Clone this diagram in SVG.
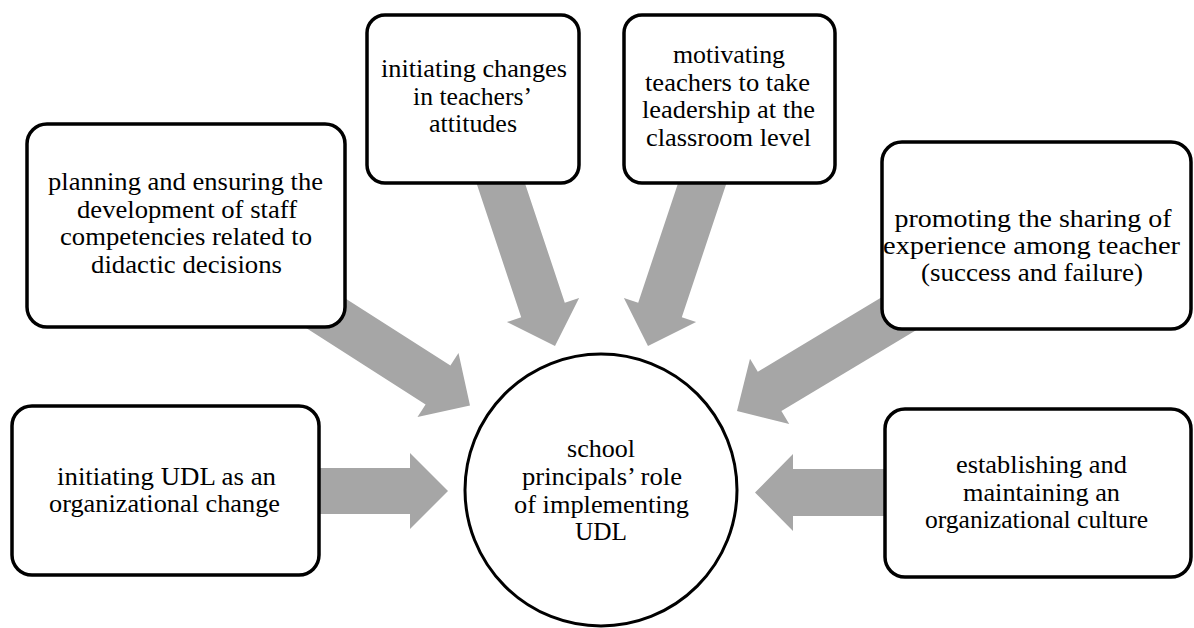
<svg xmlns="http://www.w3.org/2000/svg" width="1194" height="628" viewBox="0 0 1194 628">
  <style>
    .box { fill: #ffffff; stroke: #000000; stroke-width: 3.5; }
    .hub { fill: #ffffff; stroke: #000000; stroke-width: 3; }
    .arrow { fill: #a6a6a6; stroke: none; }
    .label { font-family: 'Liberation Serif', 'Times New Roman', serif; font-size: 25px; fill: #000000; text-anchor: middle; }
  </style>
  <rect width="1194" height="628" fill="#ffffff"/>

  <!-- block arrows pointing at the central circle (drawn first, boxes cover their tails) -->
  <g id="connectors">
    <polygon class="arrow" points="300,468 410,468 410,453 448,491 410,529 410,514 300,514"/>
    <polygon class="arrow" points="315.7,279.4 450.4,365.6 458.5,353 470,405.5 417.5,417 425.6,404.4 290.9,318.2"/>
    <polygon class="arrow" points="514.8,152.7 564.8,302.7 579.1,298 555,346 506.9,322 521.2,317.3 471.2,167.3"/>
    <polygon class="arrow" points="688.2,152.7 638.2,302.7 623.9,298 648,346 696.1,322 681.8,317.3 731.8,167.3"/>
    <polygon class="arrow" points="907.8,281.6 757.8,371.7 750,358.8 737,411 789.2,424 781.4,411.1 931.4,321"/>
    <polygon class="arrow" points="905,469 793,469 793,454 755,492.5 793,531 793,516 905,516"/>
  </g>

  <g id="node-initiating-udl">
    <rect class="box" x="12" y="406" width="307" height="169" rx="20"/>
    <g class="label">
      <text x="166.5" y="485" textLength="219" lengthAdjust="spacingAndGlyphs">initiating UDL as an</text>
      <text x="164.5" y="512" textLength="231" lengthAdjust="spacingAndGlyphs">organizational change</text>
    </g>
  </g>

  <g id="node-planning">
    <rect class="box" x="27" y="124" width="318" height="203" rx="20"/>
    <g class="label">
      <text x="185.5" y="190" textLength="275" lengthAdjust="spacingAndGlyphs">planning and ensuring the</text>
      <text x="187" y="217.5" textLength="220" lengthAdjust="spacingAndGlyphs">development of staff</text>
      <text x="186" y="245" textLength="252" lengthAdjust="spacingAndGlyphs">competencies related to</text>
      <text x="186.5" y="273" textLength="191" lengthAdjust="spacingAndGlyphs">didactic decisions</text>
    </g>
  </g>

  <g id="node-attitudes">
    <rect class="box" x="367" y="15" width="212" height="168" rx="18"/>
    <g class="label">
      <text x="474" y="77" textLength="186" lengthAdjust="spacingAndGlyphs">initiating changes</text>
      <text x="472.5" y="104.5" textLength="119" lengthAdjust="spacingAndGlyphs">in teachers’</text>
      <text x="473" y="132" textLength="88" lengthAdjust="spacingAndGlyphs">attitudes</text>
    </g>
  </g>

  <g id="node-motivating">
    <rect class="box" x="624" y="15" width="211" height="168" rx="18"/>
    <g class="label">
      <text x="729" y="63" textLength="112" lengthAdjust="spacingAndGlyphs">motivating</text>
      <text x="727.5" y="90.7" textLength="165" lengthAdjust="spacingAndGlyphs">teachers to take</text>
      <text x="728.5" y="118.3" textLength="173" lengthAdjust="spacingAndGlyphs">leadership at the</text>
      <text x="728.5" y="146" textLength="165" lengthAdjust="spacingAndGlyphs">classroom level</text>
    </g>
  </g>

  <g id="node-sharing">
    <rect class="box" x="882" y="142" width="309" height="187" rx="20"/>
    <g class="label">
      <text x="1033" y="227" textLength="277" lengthAdjust="spacingAndGlyphs">promoting the sharing of</text>
      <text x="1031.5" y="254" textLength="297" lengthAdjust="spacingAndGlyphs">experience among teacher</text>
      <text x="1032" y="281" textLength="222" lengthAdjust="spacingAndGlyphs">(success and failure)</text>
    </g>
  </g>

  <g id="node-culture">
    <rect class="box" x="885" y="409" width="306" height="168" rx="20"/>
    <g class="label">
      <text x="1041.5" y="473" textLength="171" lengthAdjust="spacingAndGlyphs">establishing and</text>
      <text x="1041.5" y="500.5" textLength="157" lengthAdjust="spacingAndGlyphs">maintaining an</text>
      <text x="1036.5" y="528" textLength="223" lengthAdjust="spacingAndGlyphs">organizational culture</text>
    </g>
  </g>

  <g id="node-principals-role">
    <circle class="hub" cx="601" cy="490" r="136"/>
    <g class="label">
      <text x="601" y="457" textLength="68" lengthAdjust="spacingAndGlyphs">school</text>
      <text x="602" y="485" textLength="160" lengthAdjust="spacingAndGlyphs">principals’ role</text>
      <text x="601.5" y="513" textLength="175" lengthAdjust="spacingAndGlyphs">of implementing</text>
      <text x="601" y="540" textLength="52" lengthAdjust="spacingAndGlyphs">UDL</text>
    </g>
  </g>
</svg>
